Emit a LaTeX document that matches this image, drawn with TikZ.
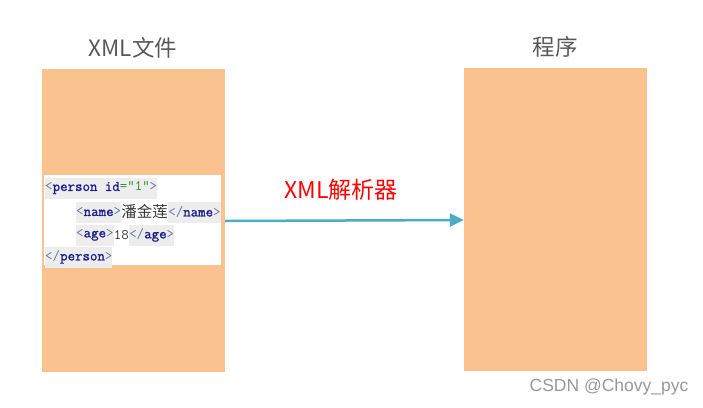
\documentclass[tikz,border=0pt]{standalone}
\usepackage{fontspec}
\newfontfamily\cjk{Noto Sans CJK SC}
\newfontfamily\wm{Liberation Sans}
\newfontfamily\codefont[AutoFakeBold=1.3]{Latin Modern Mono}
\usetikzlibrary{arrows.meta}
\definecolor{peach}{HTML}{F9C28F}
\definecolor{titlegray}{HTML}{595959}
\definecolor{arrowblue}{HTML}{4BACC6}
\definecolor{codegray}{HTML}{EDEDED}
\definecolor{brk}{HTML}{6677A0}
\definecolor{tagc}{HTML}{1C1C8C}
\definecolor{valc}{HTML}{2E8B2E}
\definecolor{wmgray}{HTML}{999999}
\definecolor{cntc}{HTML}{3A3A3A}
\begin{document}
\begin{tikzpicture}[x=1pt,y=-1pt,
  panel/.style={draw=none, fill=peach, minimum width=183pt, minimum height=303pt, inner sep=0pt},
  title/.style={font=\cjk\fontsize{22.5}{26}\selectfont, text=titlegray},
  seg/.style={anchor=west, inner sep=0pt, minimum height=21pt, font=\codefont\fontsize{14.5}{16}\selectfont},
  gseg/.style={seg, fill=codegray},
  wseg/.style={seg, fill=white},
  flow/.style={draw=arrowblue, line width=2.5pt, -{Triangle[length=14pt,width=13pt]}},
]
\useasboundingbox (0,0) rectangle (703,407);
\fill[white] (0,0) rectangle (703,407);

\node[panel] (xml) at (133.5,220.5) {};
\node[panel] (prog) at (555.5,219.5) {};
\node[title] (t1) at (133,48) {XML文件};
\node[title] (t2) at (555,47) {程序};

% code snippet
\node[fill=white, minimum width=177pt, minimum height=90pt, inner sep=0pt] (code) at (132.5,220) {};
\node[gseg] (l1) at (45,188) {\textcolor{brk}{<}\textcolor{tagc}{\bfseries person} \textcolor{tagc}{\bfseries id}\textcolor{valc}{="1"}\textcolor{brk}{>}};
\node[gseg] (l2a) at (76,212) {\textcolor{brk}{<}\textcolor{tagc}{\bfseries name}\textcolor{brk}{>}};
\node[wseg] (l2b) at (l2a.east) {\cjk\fontsize{15.5}{16}\selectfont\color{cntc}潘金莲};
\node[gseg] (l2c) at (l2b.east) {\textcolor{brk}{</}\textcolor{tagc}{\bfseries name}\textcolor{brk}{>}};
\node[gseg] (l3a) at (76,235) {\textcolor{brk}{<}\textcolor{tagc}{\bfseries age}\textcolor{brk}{>}};
\node[wseg] (l3b) at (l3a.east) {\color{cntc}18};
\node[gseg] (l3c) at (l3b.east) {\textcolor{brk}{</}\textcolor{tagc}{\bfseries age}\textcolor{brk}{>}};
\node[gseg] (l4) at (45,257) {\textcolor{brk}{</}\textcolor{tagc}{\bfseries person}\textcolor{brk}{>}};

\draw[flow] (xml.east |- 0,221) -- (prog.west |- 0,220);
\node[font=\cjk\fontsize{23}{26}\selectfont, text=red] (lbl) at (341,190) {XML解析器};

\node[font=\wm\fontsize{17.5}{20}\selectfont, text=wmgray] (wm) at (609,387) {CSDN @Chovy\_pyc};
\end{tikzpicture}
\end{document}
